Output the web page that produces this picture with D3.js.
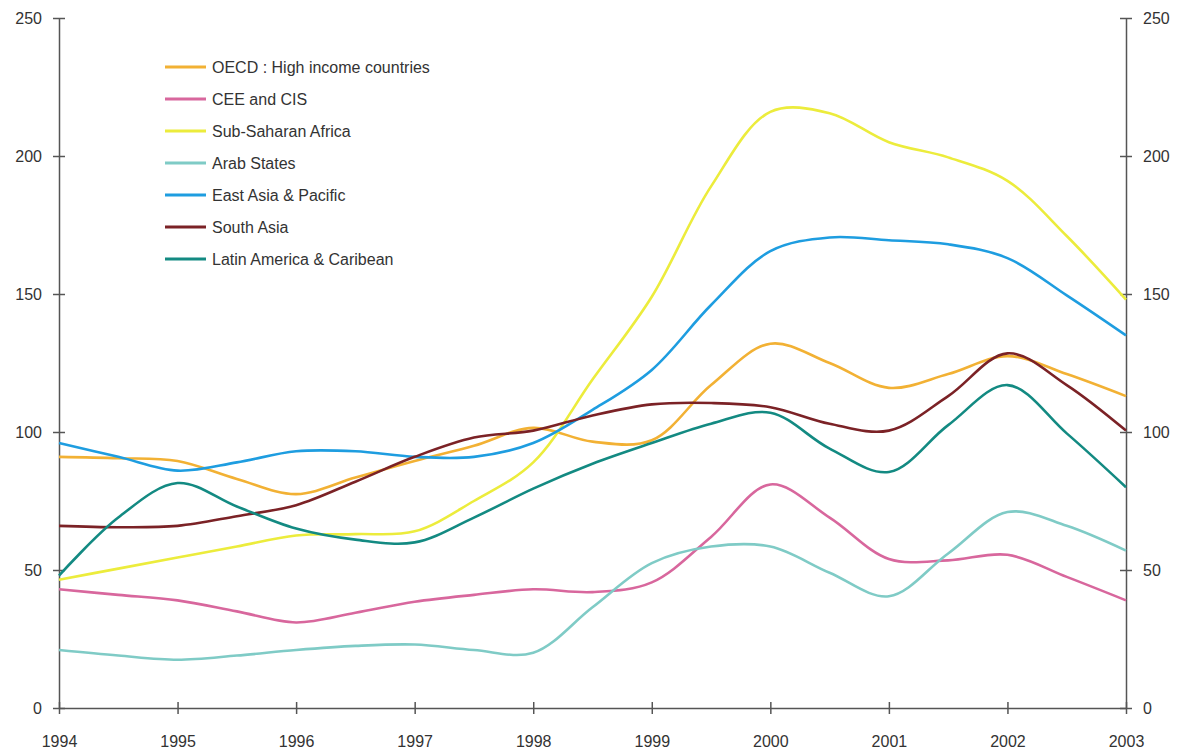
<!DOCTYPE html>
<html><head><meta charset="utf-8">
<script src="https://cdn.jsdelivr.net/npm/d3@7"></script>
<style>body{margin:0;background:#fff}svg{display:block}text{font-family:"Liberation Sans",Arial,sans-serif;fill:#333}</style>
</head><body><svg id="c" width="1196" height="753"></svg>
<script>
const periods = [1994,1994.5,1995,1995.5,1996,1996.5,1997,1997.5,1998,1998.5,1999,1999.5,2000,2000.5,2001,2001.5,2002,2002.5,2003];
const yearTicks = [1994,1995,1996,1997,1998,1999,2000,2001,2002,2003];
const valueTicks = [0,50,100,150,200,250];
const seriesNames = ["OECD : High income countries","CEE and CIS","Sub-Saharan Africa","Arab States","East Asia & Pacific","South Asia","Latin America & Caribean"];
const seriesColors = ["#f2b134","#d8679d","#ecec3c","#7fcbc6","#1e9de0","#7b2226","#138a82"];
const oecd   = [91,90.5,89.5,83,77.5,83.5,89.5,95,101.5,96.5,97,117,132,125,116,121,127.5,121,113];
const cee    = [43,41,39,35,31,34.5,38.5,41,43,42,45.5,62,81,69,54,53.5,55.5,47.5,39];
const ssa    = [46.5,50.5,54.5,58.5,62.5,63,64,75,89,119,149,189,216,215.5,205,199.5,191,171,148];
const arab   = [21,19,17.5,19,21,22.5,23,21,20,36.5,52.5,58.5,58.5,49,40.5,56,71,66,57];
const eap    = [96,91,86,89,93,93,91,91,96,108,122.5,146,165.5,170.5,169.5,168,163,149.5,135];
const sasia  = [66,65.5,66,69.5,73.5,82,91,98,100.5,106,110,110.5,109,103,100.5,113,128.5,117,100.5];
const latam  = [48,69,81.5,73,65,61,60,69,79.5,88.5,96,103,107,94,85.5,102.5,117,99.5,80];
const seriesValues = [oecd,cee,ssa,arab,eap,sasia,latam];

const svg = d3.select("#c");
const x = d3.scaleLinear().domain([1994,2003]).range([59,1126]);
const y = d3.scaleLinear().domain([0,250]).range([708,18]);
const axisColor = "#555";

function styleAxis(g){
  g.select(".domain").attr("stroke",axisColor).attr("stroke-width",1.5);
  g.selectAll(".tick line").attr("stroke",axisColor).attr("stroke-width",1.5);
  g.selectAll(".tick text").attr("font-size",16).attr("fill","#333").style("font-family","Liberation Sans, Arial, sans-serif");
}
const gl = svg.append("g").attr("transform","translate(59,0)")
  .call(d3.axisLeft(y).tickValues(valueTicks).tickSize(6).tickPadding(11).tickSizeOuter(0));
styleAxis(gl);
gl.selectAll(".tick").append("line").attr("x2",6).attr("stroke",axisColor).attr("stroke-width",1.5);
const gr = svg.append("g").attr("transform","translate(1126,0)")
  .call(d3.axisRight(y).tickValues(valueTicks).tickSize(6).tickPadding(11).tickSizeOuter(0));
styleAxis(gr);
gr.selectAll(".tick").append("line").attr("x2",-6).attr("stroke",axisColor).attr("stroke-width",1.5);
const gb = svg.append("g").attr("transform","translate(0,708)")
  .call(d3.axisBottom(x).tickValues(yearTicks).tickFormat(d3.format("d")).tickSize(6).tickPadding(22).tickSizeOuter(0));
styleAxis(gb);
gb.selectAll(".tick").append("line").attr("y2",-6).attr("stroke",axisColor).attr("stroke-width",1.5);

const line = d3.line().x((d,i)=>x(periods[i])).y(d=>y(d)).curve(d3.curveCatmullRom.alpha(0.5));
seriesValues.forEach((vals,k)=>{
  svg.append("path").datum(vals).attr("d",line).attr("fill","none")
    .attr("stroke",seriesColors[k]).attr("stroke-width",2.6).attr("stroke-linejoin","round");
});

const lg = svg.append("g");
seriesNames.forEach((n,k)=>{
  const yy = 67 + k*32;
  lg.append("line").attr("x1",165).attr("x2",206).attr("y1",yy).attr("y2",yy)
    .attr("stroke",seriesColors[k]).attr("stroke-width",3.2);
  lg.append("text").attr("x",212).attr("y",yy+6).attr("font-size",16).text(n);
});
</script></body></html>
